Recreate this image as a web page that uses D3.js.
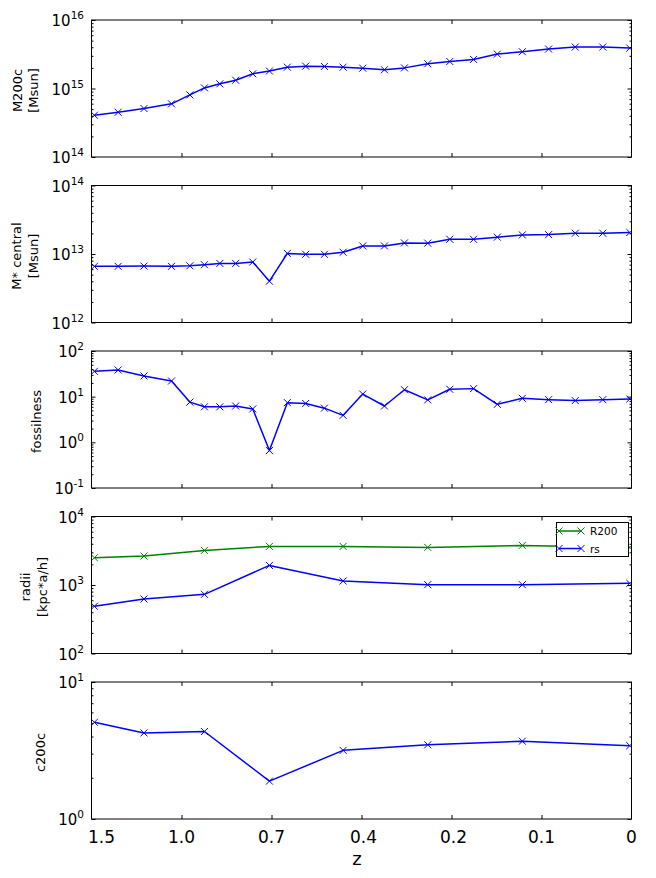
<!DOCTYPE html>
<html><head><meta charset="utf-8">
<script src="https://cdn.jsdelivr.net/npm/d3@7"></script>
<style>body{margin:0;background:#fff}svg{display:block}</style>
</head><body>
<svg id="c" width="656" height="878"></svg>
<script>
// ---- data ----
const zTickPos = [0, 1, 2, 3, 4, 5, 6];
const zTickLabels = ["1.5", "1.0", "0.7", "0.4", "0.2", "0.1", "0"];
const snapX = [0.032,0.296,0.583,0.889,1.093,1.255,1.426,1.602,1.792,1.977,2.176,2.380,2.588,2.796,3.014,3.255,3.477,3.736,3.981,4.245,4.509,4.787,5.079,5.375,5.681,5.981];
const m200c = [4.07e14,4.5e14,5.1e14,5.97e14,8.07e14,1.02e15,1.17e15,1.32e15,1.64e15,1.80e15,2.05e15,2.12e15,2.10e15,2.05e15,1.98e15,1.88e15,2.0e15,2.30e15,2.48e15,2.66e15,3.18e15,3.44e15,3.77e15,4.03e15,4.03e15,3.89e15];
const mstar = [6.6e12,6.6e12,6.66e12,6.6e12,6.73e12,6.97e12,7.29e12,7.29e12,7.63e12,4.01e12,1.02e13,9.9e12,9.9e12,1.06e13,1.31e13,1.31e13,1.45e13,1.44e13,1.64e13,1.64e13,1.76e13,1.90e13,1.92e13,2.01e13,2.01e13,2.06e13];
const fossil = [35.9,38.4,28.4,22.0,7.6,6.0,6.0,6.25,5.4,0.66,7.4,7.1,5.6,3.9,11.4,6.25,14.2,8.5,14.5,15.0,6.8,9.2,8.6,8.2,8.6,8.9];
const radX = [0.032,0.583,1.255,1.977,2.796,3.736,4.787,5.981];
const r200 = [2500,2645,3200,3660,3660,3540,3785,3540];
const rs = [489,625,731,1930,1143,1011,1011,1057];
const c200c = [5.08,4.25,4.35,1.89,3.17,3.48,3.70,3.43];

// ---- layout ----
const svg = d3.select("#c");
const X0 = 91.5, X1 = 631.5, PH = 137;
const tops = [20, 185.5, 351, 516.5, 682];
const x = d3.scaleLinear().domain([0, 6]).range([X0, X1]);
const BLUE = "#0000ff", GREEN = "#008000";
const FONT = "DejaVu Sans, sans-serif";

const panels = [
  {dom:[1e14,1e16], labels:["M200c","[Msun]"], lx:[17,33], series:[{xs:snapX, ys:m200c, c:BLUE}]},
  {dom:[1e12,1e14], labels:["M* central","[Msun]"], lx:[16,33], series:[{xs:snapX, ys:mstar, c:BLUE}]},
  {dom:[1e-1,1e2], labels:["fossilness"], lx:[36], series:[{xs:snapX, ys:fossil, c:BLUE}]},
  {dom:[1e2,1e4], labels:["radii","[kpc*a/h]"], lx:[25,42], series:[{xs:radX, ys:r200, c:GREEN, name:"R200"},{xs:radX, ys:rs, c:BLUE, name:"rs"}], legend:true},
  {dom:[1e0,1e1], labels:["c200c"], lx:[40], series:[{xs:radX, ys:c200c, c:BLUE}]}
];

const xMark = "M-3.5,-3.5L3.5,3.5M-3.5,3.5L3.5,-3.5";

panels.forEach((p, i) => {
  const top = tops[i], bot = top + PH;
  const y = d3.scaleLog().domain(p.dom).range([bot, top]);
  const g = svg.append("g");
  const lo = Math.round(Math.log10(p.dom[0])), hi = Math.round(Math.log10(p.dom[1]));
  const major = d3.range(lo, hi + 1).map(k => Math.pow(10, k));
  const minor = y.ticks().filter(v => Math.abs(Math.log10(v) - Math.round(Math.log10(v))) > 1e-6);

  // clip
  const cid = "clip" + i;
  svg.append("clipPath").attr("id", cid).append("rect")
    .attr("x", X0).attr("y", top).attr("width", X1 - X0).attr("height", PH);

  // series
  p.series.forEach(s => {
    const pts = s.xs.map((xv, j) => [x(xv), y(s.ys[j])]);
    const sg = g.append("g").attr("clip-path", `url(#${cid})`);
    sg.append("path").attr("d", d3.line()(pts)).attr("fill", "none")
      .attr("stroke", s.c).attr("stroke-width", 1.5).attr("stroke-linejoin", "round");
    sg.selectAll(null).data(pts).join("path")
      .attr("transform", d => `translate(${d[0]},${d[1]})`)
      .attr("d", xMark).attr("stroke", s.c).attr("stroke-width", 1).attr("fill", "none");
  });

  // ticks via d3 axes (inward)
  const addAxis = (axis, tx, ty) => {
    const a = g.append("g").attr("transform", `translate(${tx},${ty})`).call(axis);
    a.select(".domain").remove();
    a.selectAll("text").remove();
    a.selectAll("line").attr("stroke", "#000").attr("stroke-width", 1);
  };
  addAxis(d3.axisLeft(y).tickValues(major).tickSize(-4).tickFormat(""), X0, 0);
  addAxis(d3.axisRight(y).tickValues(major).tickSize(-4).tickFormat(""), X1, 0);
  addAxis(d3.axisLeft(y).tickValues(minor).tickSize(-2).tickFormat(""), X0, 0);
  addAxis(d3.axisRight(y).tickValues(minor).tickSize(-2).tickFormat(""), X1, 0);
  const innerX = zTickPos.slice(1, -1);
  addAxis(d3.axisBottom(x).tickValues(innerX).tickSize(-4).tickFormat(""), 0, bot);
  addAxis(d3.axisTop(x).tickValues(innerX).tickSize(-4).tickFormat(""), 0, top);

  // frame
  g.append("rect").attr("x", X0).attr("y", top).attr("width", X1 - X0).attr("height", PH)
    .attr("fill", "none").attr("stroke", "#000").attr("stroke-width", 1);

  // y tick labels 10^k
  major.forEach(v => {
    const k = Math.round(Math.log10(v));
    const t = g.append("text").attr("x", 84).attr("y", y(v) + 6)
      .attr("text-anchor", "end").attr("font-family", FONT).attr("font-size", 15).attr("fill", "#000");
    t.append("tspan").text("10");
    t.append("tspan").attr("dy", -7).attr("font-size", 10.5).text(k < 0 ? "-" + (-k) : String(k));
  });

  // y label(s)
  const cy = (top + bot) / 2 + 2;
  p.labels.forEach((lab, j) => {
    g.append("text").attr("transform", `translate(${p.lx[j]},${cy}) rotate(-90)`)
      .attr("text-anchor", "middle").attr("dominant-baseline", "central")
      .attr("font-family", FONT).attr("font-size", 13).attr("fill", "#000").text(lab);
  });

  // legend
  if (p.legend) {
    const lg = g.append("g");
    lg.append("rect").attr("x", 556.5).attr("y", 522.5).attr("width", 72).attr("height", 34)
      .attr("fill", "#fff").attr("stroke", "#000").attr("stroke-width", 1);
    p.series.forEach((s, j) => {
      const ly = 531 + j * 17.5;
      lg.append("line").attr("x1", 559).attr("x2", 581).attr("y1", ly).attr("y2", ly)
        .attr("stroke", s.c).attr("stroke-width", 1.5);
      [559, 581].forEach(mx => lg.append("path").attr("transform", `translate(${mx},${ly})`)
        .attr("d", xMark).attr("stroke", s.c).attr("stroke-width", 1).attr("fill", "none"));
      lg.append("text").attr("x", 590).attr("y", ly + 4).attr("font-family", FONT)
        .attr("font-size", 10.5).attr("fill", "#000").text(s.name);
    });
  }

  // x tick labels on bottom panel
  if (i === panels.length - 1) {
    zTickPos.forEach((v, j) => {
      g.append("text").attr("x", x(v) + (j === 0 ? 10 : (j === 3 || j === 4 ? 2 : 0))).attr("y", 843)
        .attr("text-anchor", "middle").attr("font-family", FONT).attr("font-size", 17)
        .attr("fill", "#000").text(zTickLabels[j]);
    });
    g.append("text").attr("x", 357).attr("y", 865).attr("text-anchor", "middle")
      .attr("font-family", FONT).attr("font-size", 18).attr("fill", "#000").text("z");
  }
});
</script>
</body></html>
